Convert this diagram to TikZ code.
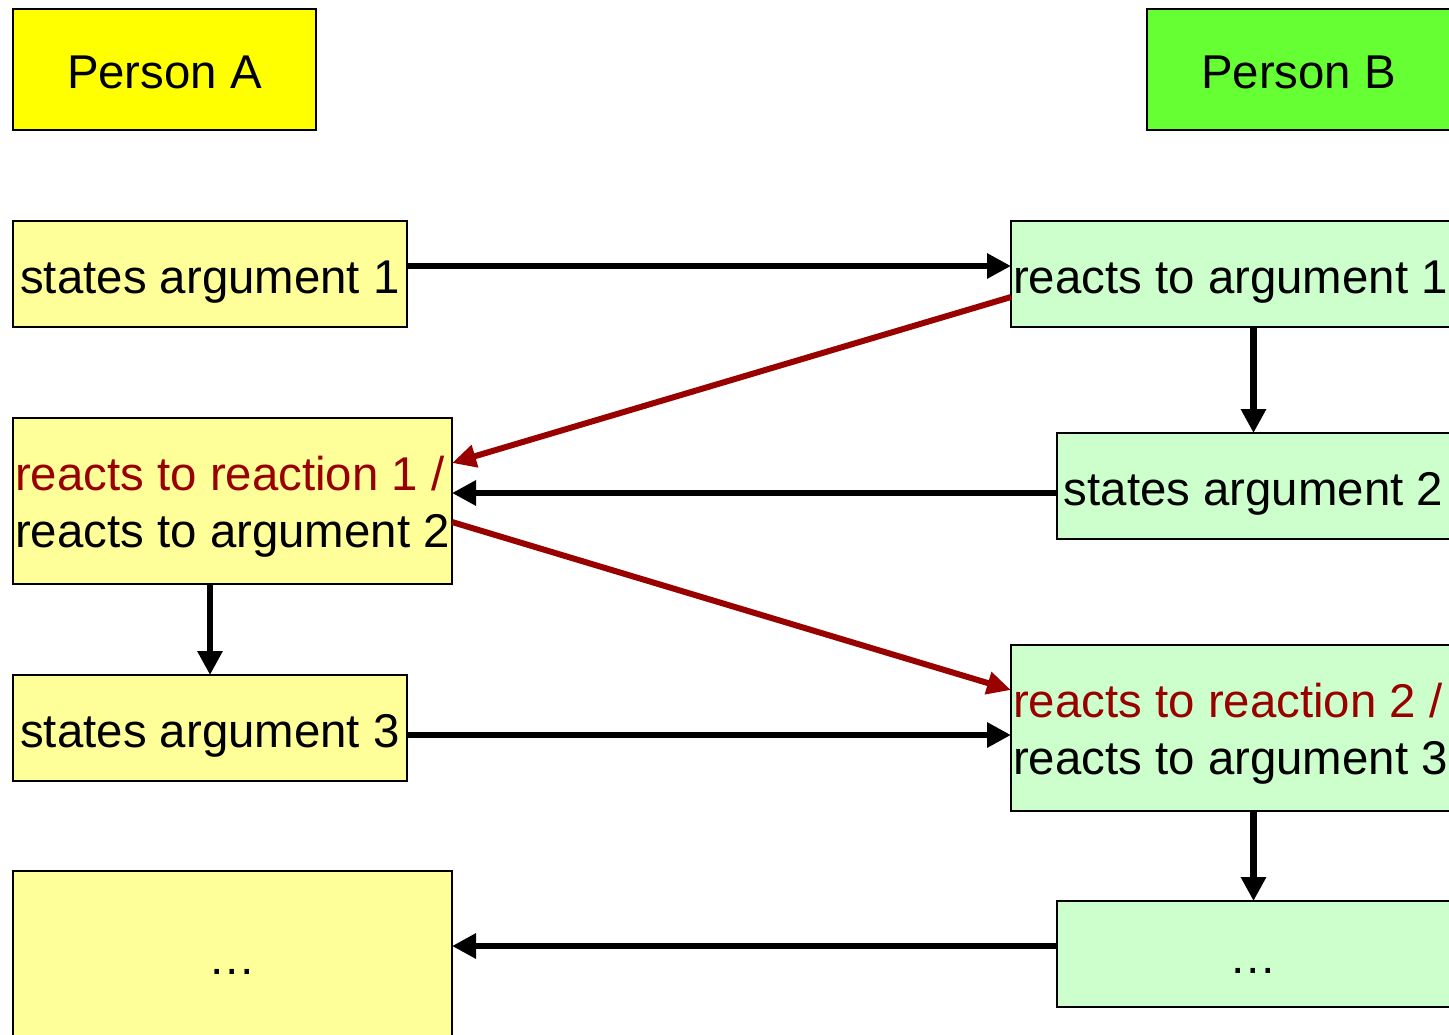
\documentclass[tikz,border=0pt]{standalone}
\usepackage{fontspec}
\setmainfont{Liberation Sans}
\usetikzlibrary{arrows.meta}
\definecolor{headA}{HTML}{FFFF00}
\definecolor{headB}{HTML}{66FF33}
\definecolor{fillA}{HTML}{FFFF99}
\definecolor{fillB}{HTML}{CCFFCC}
\definecolor{reactred}{HTML}{990000}
\begin{document}
\begin{tikzpicture}[x=0.5pt,y=-0.5pt,
  font=\fontsize{23.7pt}{28.5pt}\selectfont,
  box/.style={draw=black, line width=1pt, inner sep=0pt, outer sep=0pt},
  oneline/.style={text height=19pt, text depth=0pt},
  twoline/.style={inner sep=0pt, align=left, yshift=-3pt},
  flow/.style={line width=3.25pt, -{Triangle[length=12pt,width=12pt]}},
  reply/.style={line width=3pt, draw=reactred, -{Triangle[length=12pt,width=11pt]}}]
\useasboundingbox (0,0) rectangle (1449,1034);

% header boxes
\node[box, oneline, fill=headA, minimum width=151.5pt, minimum height=60.5pt] (pa) at (164.5,69.5) {Person A};
\node[box, oneline, fill=headB, minimum width=151.5pt, minimum height=60.5pt] (pb) at (1298.5,69.5) {Person B};

% Person A column
\node[box, oneline, fill=fillA, minimum width=197pt, minimum height=53pt] (sa1) at (210,274) {states argument 1};
\node[box, fill=fillA, minimum width=219.5pt, minimum height=83pt] (rr1) at (232.5,501) {};
\node[twoline] (rr1text) at (rr1.center)
  {\textcolor{reactred}{reacts to reaction 1 /}\\reacts to argument 2};
\node[box, oneline, fill=fillA, minimum width=197pt, minimum height=53pt] (sa3) at (210,728) {states argument 3};
\node[box, oneline, fill=fillA, minimum width=219.5pt, minimum height=84.5pt] (dA) at (232.5,955.5) {\dots};

% Person B column
\node[box, oneline, fill=fillB, minimum width=219.5pt, minimum height=53pt] (ra1) at (1230.5,274) {reacts to argument 1};
\node[box, oneline, fill=fillB, minimum width=196.5pt, minimum height=53pt] (sa2) at (1253.5,486) {states argument 2};
\node[box, fill=fillB, minimum width=219.5pt, minimum height=83pt] (rr2) at (1230.5,728) {};
\node[twoline] (rr2text) at (rr2.center)
  {\textcolor{reactred}{reacts to reaction 2 /}\\reacts to argument 3};
\node[box, oneline, fill=fillB, minimum width=196.5pt, minimum height=53pt] (dB) at (1253.5,954) {\dots};

% connector anchor points
\coordinate (e1) at ([yshift=4pt]sa1.east);
\coordinate (e2) at ([yshift=-3.5pt]sa2.west);
\coordinate (e3) at ([yshift=-3.5pt]sa3.east);
\coordinate (e4) at ([yshift=4pt]dB.west);

% black flow
\draw[flow] (e1) -- (e1 -| ra1.west);
\draw[flow] (ra1.south -| sa2.north) -- (sa2.north);
\draw[flow] (e2) -- (e2 -| rr1.east);
\draw[flow] (rr1.south -| sa3.north) -- (sa3.north);
\draw[flow] (e3) -- (e3 -| rr2.west);
\draw[flow] (rr2.south -| dB.north) -- (dB.north);
\draw[flow] (e4) -- (e4 -| dA.east);

% reactions to reactions
\draw[reply] ([yshift=-11.5pt]ra1.west) -- ([yshift=19pt]rr1.east);
\draw[reply] ([yshift=-10.5pt]rr1.east) -- ([yshift=19pt]rr2.west);
\end{tikzpicture}
\end{document}
